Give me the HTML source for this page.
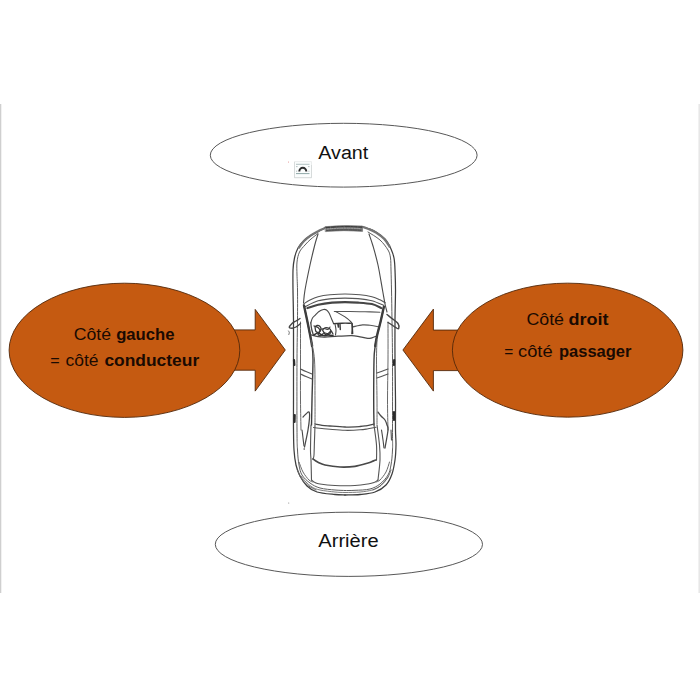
<!DOCTYPE html>
<html lang="fr">
<head>
<meta charset="utf-8">
<title>Côté gauche / côté droit</title>
<style>
html,body{margin:0;padding:0;background:#fff;}
body{width:700px;height:700px;overflow:hidden;position:relative;font-family:"Liberation Sans",sans-serif;}
svg{position:absolute;left:0;top:0;display:block;}
text{font-family:"Liberation Sans",sans-serif;}
.b{font-weight:bold;}
</style>
</head>
<body>
<svg width="700" height="700" viewBox="0 0 700 700">
  <defs>
    <linearGradient id="rg" x1="0" x2="1" y1="0" y2="0">
      <stop offset="0" stop-color="#f6f6f6"/><stop offset="1" stop-color="#e2e2e2"/>
    </linearGradient>
    <filter id="soft" x="-5%" y="-5%" width="110%" height="110%"><feGaussianBlur stdDeviation="0.35"/></filter>
  </defs>
  <rect x="0" y="0" width="700" height="700" fill="#ffffff"/>
  <!-- page edges -->
  <rect x="0" y="104" width="1" height="489" fill="#cfcfcf"/>
  <rect x="1" y="104" width="1" height="489" fill="#f1f1f1"/>
  <rect x="698" y="104" width="2" height="489" fill="url(#rg)"/>

  <!-- top ellipse -->
  <ellipse cx="343.7" cy="155.2" rx="133.4" ry="31.9" fill="#fff" stroke="#585858" stroke-width="1"/>
  <text x="318.3" y="158.6" font-size="18" fill="#111" textLength="50" lengthAdjust="spacingAndGlyphs">Avant</text>

  <!-- bottom ellipse -->
  <ellipse cx="348.9" cy="544.3" rx="133.6" ry="32.1" fill="#fff" stroke="#585858" stroke-width="1"/>
  <text x="318.3" y="547.1" font-size="18" fill="#111" textLength="60.3" lengthAdjust="spacingAndGlyphs">Arrière</text>

  <!-- small icon -->
  <g id="icon">
    <rect x="294.5" y="161.7" width="17" height="16" fill="#fbfdfd" stroke="#e6e9e9" stroke-width="0.8"/>
    <path d="M294.5 162 V177.7 H311.5 V165" fill="none" stroke="#d2d5d5" stroke-width="0.8"/>
    <line x1="296" y1="164.3" x2="309.5" y2="164.3" stroke="#a9baba" stroke-width="0.9"/>
    <line x1="296" y1="173.6" x2="309.5" y2="173.6" stroke="#8fa8a8" stroke-width="1"/>
    <path d="M296 166.6h1.6M296 171.2h1.2M308 166.6h1.6M308.3 171.2h1.2" stroke="#9aa8a8" stroke-width="0.7"/>
    <path d="M299.3 171.4 A3.5 3.6 0 0 1 306.3 171.4" fill="none" stroke="#2e2e2e" stroke-width="2"/>
    <circle cx="288.5" cy="162" r="0.5" fill="#e08080"/>
  </g>

  <!-- left arrow + ellipse -->
  <g fill="#c55a11" stroke="#52280a" stroke-width="0.9" stroke-linejoin="miter">
    <path d="M225 329.9 L255.2 329.9 L255.2 309.4 L285.3 350 L255.2 391.1 L255.2 370.2 L225 370.2 Z"/>
    <ellipse cx="124.45" cy="350.3" rx="115.35" ry="67.1"/>
    <path d="M465 330.1 L433.4 330.1 L433.4 309.1 L402.9 350 L433.4 391.1 L433.4 370.6 L465 370.6 Z"/>
    <ellipse cx="567.65" cy="350.15" rx="115.25" ry="67"/>
  </g>

  <!-- left text -->
  <g font-size="16" fill="#1a0a02">
    <text x="73.7" y="340.1" textLength="37.3" lengthAdjust="spacingAndGlyphs">Côté</text>
    <text class="b" x="116.2" y="340.1" textLength="58.3" lengthAdjust="spacingAndGlyphs">gauche</text>
    <text x="50.2" y="365.7" textLength="9.4" lengthAdjust="spacingAndGlyphs">=</text>
    <text x="65.5" y="365.7" textLength="33" lengthAdjust="spacingAndGlyphs">côté</text>
    <text class="b" x="104.4" y="365.7" textLength="94.8" lengthAdjust="spacingAndGlyphs">conducteur</text>
  </g>
  <!-- right text -->
  <g font-size="16" fill="#1a0a02">
    <text x="526.4" y="324.6" textLength="37.6" lengthAdjust="spacingAndGlyphs">Côté</text>
    <text class="b" x="568.6" y="324.6" textLength="40" lengthAdjust="spacingAndGlyphs">droit</text>
    <text x="504.2" y="357.2" textLength="9" lengthAdjust="spacingAndGlyphs">=</text>
    <text x="518" y="357.2" textLength="34.6" lengthAdjust="spacingAndGlyphs">côté</text>
    <text class="b" x="559" y="357.2" textLength="72.4" lengthAdjust="spacingAndGlyphs">passager</text>
  </g>

  <!-- CAR -->
  <g id="car" filter="url(#soft)" fill="none" stroke="#555" stroke-width="0.8" stroke-linecap="round" stroke-linejoin="round">
    <path d="M325.5 227.5C324.6 228.0 322.6 229.1 320.0 230.5C317.4 231.9 312.7 234.3 310.0 236.0C307.3 237.7 306.0 238.5 304.0 240.5C302.0 242.5 299.6 245.1 298.0 248.0C296.4 250.9 295.3 254.3 294.5 258.0C293.7 261.7 293.2 264.7 293.0 270.0C292.8 275.3 292.9 281.7 293.0 290.0C293.1 298.3 293.4 308.3 293.5 320.0C293.6 331.7 293.5 346.7 293.5 360.0C293.5 373.3 293.5 388.3 293.5 400.0C293.5 411.7 293.4 421.7 293.5 430.0C293.6 438.3 293.6 444.2 294.0 450.0C294.4 455.8 295.0 460.7 296.0 465.0C297.0 469.3 298.2 472.5 300.0 476.0C301.8 479.5 304.2 483.3 307.0 486.0C309.8 488.7 312.3 490.6 317.0 492.0C321.7 493.4 330.3 494.0 335.0 494.5C339.7 495.0 343.3 494.9 345.0 495.0" stroke="#3e3e3e" stroke-width="1.26"/>
    <path d="M362.0 226.5C363.0 226.8 365.8 227.7 368.0 228.5C370.2 229.3 372.2 229.8 375.0 231.5C377.8 233.2 382.3 236.1 385.0 239.0C387.7 241.9 389.5 245.8 391.0 249.0C392.5 252.2 393.3 254.5 394.0 258.0C394.7 261.5 394.8 264.7 395.0 270.0C395.2 275.3 395.5 281.7 395.5 290.0C395.5 298.3 395.1 308.3 395.0 320.0C394.9 331.7 394.9 346.7 395.0 360.0C395.1 373.3 395.4 388.3 395.5 400.0C395.6 411.7 395.4 422.5 395.5 430.0C395.6 437.5 396.1 440.0 396.0 445.0C395.9 450.0 395.7 455.2 395.0 460.0C394.3 464.8 393.5 469.8 392.0 474.0C390.5 478.2 388.8 482.0 386.0 485.0C383.2 488.0 379.3 490.4 375.0 492.0C370.7 493.6 365.0 494.0 360.0 494.5C355.0 495.0 347.5 494.9 345.0 495.0" stroke="#3e3e3e" stroke-width="1.26"/>
    <path d="M324.0 228.5C323.0 228.9 320.3 229.9 318.0 231.2C315.7 232.4 312.3 234.4 310.0 236.0C307.7 237.6 305.8 239.1 304.0 241.0C302.2 242.9 299.8 246.4 299.0 247.5" stroke="#757575" stroke-width="2.24"/>
    <path d="M363.0 227.0C364.0 227.4 366.8 228.3 369.0 229.2C371.2 230.1 373.5 230.9 376.0 232.5C378.5 234.1 381.8 236.5 384.0 238.8C386.2 241.1 388.6 245.2 389.5 246.5" stroke="#757575" stroke-width="2.24"/>
    <path d="M318.0 233.5C316.8 234.4 313.2 237.1 311.0 239.0C308.8 240.9 306.9 242.8 305.0 245.0C303.1 247.2 300.8 249.2 299.5 252.0C298.2 254.8 297.4 258.2 297.0 262.0C296.6 265.8 296.9 270.3 297.0 275.0C297.1 279.7 297.4 282.5 297.5 290.0C297.6 297.5 297.6 308.3 297.5 320.0C297.4 331.7 297.1 341.7 297.0 360.0C296.9 378.3 296.9 415.0 297.0 430.0C297.1 445.0 297.2 444.2 297.5 450.0C297.8 455.8 298.2 460.8 299.0 465.0C299.8 469.2 300.2 472.0 302.0 475.0C303.8 478.0 307.0 480.8 310.0 483.0C313.0 485.2 315.8 486.8 320.0 488.0C324.2 489.2 330.8 489.6 335.0 490.0C339.2 490.4 343.3 490.4 345.0 490.5" stroke="#5a5a5a" stroke-width="0.98"/>
    <path d="M368.0 232.0C370.0 233.3 376.7 237.0 380.0 240.0C383.3 243.0 386.2 247.0 388.0 250.0C389.8 253.0 390.0 254.7 390.5 258.0C391.0 261.3 390.8 264.7 391.0 270.0C391.2 275.3 391.3 281.7 391.5 290.0C391.7 298.3 391.8 308.3 392.0 320.0C392.2 331.7 392.4 341.7 392.5 360.0C392.6 378.3 392.5 415.0 392.5 430.0C392.5 445.0 392.8 444.2 392.5 450.0C392.2 455.8 391.8 460.8 391.0 465.0C390.2 469.2 389.8 471.8 388.0 475.0C386.2 478.2 383.0 481.7 380.0 484.0C377.0 486.3 374.2 487.9 370.0 489.0C365.8 490.1 359.2 490.1 355.0 490.3C350.8 490.6 346.7 490.5 345.0 490.5" stroke="#5a5a5a" stroke-width="0.98"/>
    <path d="M300.5 322.0C300.5 328.3 300.5 347.0 300.5 360.0C300.5 373.0 300.4 388.3 300.5 400.0C300.6 411.7 300.9 425.0 301.0 430.0" stroke="#656565" stroke-width="0.98"/>
    <path d="M388.0 322.0C388.0 328.3 388.1 347.0 388.0 360.0C387.9 373.0 387.5 388.3 387.5 400.0C387.5 411.7 387.9 425.0 388.0 430.0" stroke="#656565" stroke-width="0.98"/>
    <path d="M301.0 476.0C301.8 477.0 304.2 480.2 306.0 482.0C307.8 483.8 309.7 485.7 312.0 487.0C314.3 488.3 316.2 489.2 320.0 490.0C323.8 490.8 330.8 491.6 335.0 492.0C339.2 492.4 340.8 492.5 345.0 492.5C349.2 492.5 355.5 492.4 360.0 492.0C364.5 491.6 368.7 491.0 372.0 490.0C375.3 489.0 377.3 488.2 380.0 486.0C382.7 483.8 386.7 478.5 388.0 477.0" stroke="#656565" stroke-width="0.84"/>
    <path d="M318.0 234.0C317.4 236.0 315.8 240.8 314.5 246.0C313.2 251.2 311.6 257.7 310.0 265.0C308.4 272.3 306.1 283.7 305.0 290.0C303.9 296.3 303.8 300.8 303.5 303.0" stroke="#4c4c4c" stroke-width="1.12"/>
    <path d="M369.0 234.0C369.7 236.0 371.5 240.8 373.0 246.0C374.5 251.2 376.4 257.7 378.0 265.0C379.6 272.3 381.3 283.5 382.5 290.0C383.7 296.5 384.2 300.3 385.0 304.0C385.8 307.7 386.7 310.7 387.0 312.0" stroke="#4c4c4c" stroke-width="1.12"/>
    <path d="M303.4 304.1C304.5 303.4 307.6 301.2 310.0 300.0C312.4 298.8 314.8 297.6 318.1 296.7C321.4 295.8 325.5 295.2 330.0 294.8C334.5 294.4 340.0 294.0 345.0 294.0C350.0 294.0 355.5 294.4 360.0 294.8C364.5 295.2 368.6 295.9 371.9 296.7C375.2 297.5 377.8 298.8 380.0 299.8C382.2 300.8 384.4 302.3 385.3 302.8" stroke="#565656" stroke-width="1.12"/>
    <path d="M304.7 306.8C306.9 305.8 313.6 302.2 318.1 300.8C322.7 299.4 327.5 299.1 332.0 298.6C336.5 298.2 340.7 298.1 345.0 298.1C349.3 298.1 353.5 298.2 358.0 298.6C362.5 299.1 367.6 299.7 371.9 300.8C376.2 301.9 381.9 304.7 383.9 305.5" stroke="#565656" stroke-width="1.12"/>
    <path d="M307.4 308.1C309.2 307.6 314.0 305.7 318.1 304.8C322.2 303.9 327.5 303.1 332.0 302.6C336.5 302.2 340.7 302.1 345.0 302.1C349.3 302.1 353.5 302.3 358.0 302.6C362.5 302.9 368.0 303.2 371.9 304.1C375.8 305.0 379.7 307.4 381.3 308.1" stroke="#444444" stroke-width="2.10"/>
    <path d="M334.3 311.5C336.9 311.5 344.9 311.4 350.0 311.5C355.1 311.6 360.0 311.7 365.0 311.8C370.0 311.9 377.4 312.1 379.9 312.2" stroke="#565656" stroke-width="1.12"/>
    <path d="M310.8 322.9C311.1 322.1 311.7 319.3 312.5 318.0C313.3 316.7 314.4 316.0 315.5 314.9C316.6 313.8 317.7 312.4 319.0 311.5C320.3 310.6 322.2 309.8 323.5 309.5C324.8 309.2 325.6 309.4 326.5 310.0C327.4 310.6 328.0 311.3 328.9 312.8C329.8 314.3 330.8 317.1 331.6 318.9C332.4 320.7 333.3 322.8 333.6 323.6" stroke="#484848" stroke-width="1.12"/>
    <path d="M335.6 311.5C337.2 312.4 342.3 315.0 345.0 316.9C347.7 318.8 350.5 321.0 351.7 322.9C352.9 324.8 352.4 326.5 352.4 328.3C352.4 330.1 351.8 332.8 351.7 333.7" stroke="#484848" stroke-width="1.12"/>
    <path d="M333.6 323.6C335.0 323.5 339.2 323.3 342.0 323.2C344.8 323.1 349.0 323.2 350.4 323.2" stroke="#393939" stroke-width="1.40"/>
    <path d="M352.4 326.9C354.1 326.6 359.6 325.2 362.5 324.9C365.4 324.6 367.3 325.0 370.0 325.3C372.7 325.6 377.2 326.6 378.6 326.9" stroke="#565656" stroke-width="1.12"/>
    <path d="M311.4 335.0C312.5 335.3 315.8 336.3 318.0 336.6C320.2 336.9 321.6 337.1 324.9 337.0C328.2 336.9 333.5 336.4 338.0 336.2C342.5 336.0 348.0 335.6 351.7 335.7C355.4 335.8 357.3 336.4 360.0 336.8C362.7 337.2 365.8 338.2 367.8 338.4C369.8 338.6 370.6 338.1 372.0 337.8C373.4 337.5 375.2 336.6 375.9 336.3" stroke="#484848" stroke-width="1.26"/>
    <path d="M304.0 305.5C304.6 308.2 306.4 316.7 307.4 321.6C308.4 326.5 309.3 330.9 310.1 335.0C310.9 339.1 311.6 341.8 312.1 346.0C312.6 350.2 313.0 351.0 313.0 360.0C313.0 369.0 312.2 389.2 312.0 400.0C311.8 410.8 311.6 420.8 311.5 425.0" stroke="#3e3e3e" stroke-width="1.40"/>
    <path d="M383.9 306.8C383.3 309.3 381.7 316.9 380.6 321.6C379.5 326.3 378.1 330.9 377.2 335.0C376.3 339.1 375.7 341.8 375.2 346.0C374.7 350.2 374.2 351.0 374.0 360.0C373.8 369.0 373.7 389.2 373.7 400.0C373.7 410.8 373.9 420.8 374.0 425.0" stroke="#3e3e3e" stroke-width="1.40"/>
    <path d="M304.0 305.5C304.6 308.2 306.4 316.7 307.4 321.6C308.4 326.5 309.3 330.9 310.1 335.0C310.9 339.1 311.8 344.2 312.1 346.0" stroke="#3e3e3e" stroke-width="2.38"/>
    <path d="M383.9 306.8C383.3 309.3 381.7 316.9 380.6 321.6C379.5 326.3 378.1 330.9 377.2 335.0C376.3 339.1 375.5 344.2 375.2 346.0" stroke="#3e3e3e" stroke-width="2.38"/>
    <path d="M310.8 322.9C310.9 323.9 311.2 326.9 311.6 329.0C312.1 331.1 313.2 334.4 313.5 335.5" stroke="#484848" stroke-width="1.26"/>
    <path d="M311.0 340.0C311.6 343.3 313.8 350.0 314.5 360.0C315.2 370.0 314.9 389.3 315.0 400.0C315.1 410.7 315.0 420.0 315.0 424.0" stroke="#656565" stroke-width="0.98"/>
    <path d="M377.0 340.0C376.9 343.3 376.5 350.0 376.5 360.0C376.5 370.0 376.9 389.3 377.0 400.0C377.1 410.7 377.0 420.0 377.0 424.0" stroke="#656565" stroke-width="0.98"/>
    <path d="M314.0 326.0C314.7 326.2 317.0 326.7 318.0 327.5C319.0 328.3 320.0 329.8 320.0 331.0C320.0 332.2 317.8 333.8 318.0 334.5C318.2 335.2 320.0 335.8 321.0 335.5C322.0 335.2 322.8 333.3 324.0 333.0C325.2 332.7 326.8 333.8 328.0 333.5C329.2 333.2 330.2 330.9 331.0 331.0C331.8 331.1 332.7 333.5 333.0 334.0" stroke="#393939" stroke-width="1.26"/>
    <path d="M320.0 329.5C320.7 329.3 322.7 328.5 324.0 328.5C325.3 328.5 327.0 329.8 328.0 329.5C329.0 329.2 329.7 327.4 330.0 327.0" stroke="#484848" stroke-width="1.12"/>
    <path d="M335.0 324.0C335.2 325.0 335.9 328.2 336.0 330.0C336.1 331.8 335.6 334.2 335.5 335.0" stroke="#484848" stroke-width="1.12"/>
    <path d="M338.0 324.0L338.5 327.0" stroke="#393939" stroke-width="1.68"/>
    <path d="M315.0 327.0C315.3 326.8 316.2 325.6 317.0 325.5C317.8 325.4 319.3 325.8 320.0 326.5C320.7 327.2 321.2 328.6 321.0 329.5C320.8 330.4 319.8 331.7 319.0 332.0C318.2 332.3 316.7 332.3 316.0 331.5C315.3 330.7 315.2 327.8 315.0 327.0" stroke="#393939" stroke-width="1.26"/>
    <path d="M322.5 330.0C322.9 329.6 323.9 328.1 325.0 327.8C326.1 327.5 328.0 327.8 329.0 328.3C330.0 328.8 330.9 330.1 331.0 331.0C331.1 331.9 330.4 333.4 329.5 334.0C328.6 334.6 326.7 335.2 325.5 334.5C324.3 333.8 323.0 330.8 322.5 330.0" stroke="#393939" stroke-width="1.26"/>
    <path d="M314.0 335.0C314.7 334.7 316.5 332.9 318.0 333.0C319.5 333.1 321.3 335.2 323.0 335.5C324.7 335.8 326.3 335.0 328.0 335.0C329.7 335.0 332.2 335.4 333.0 335.5" stroke="#313131" stroke-width="1.54"/>
    <path d="M340.0 324.0L340.3 329.5" stroke="#393939" stroke-width="1.40"/>
    <path d="M352.0 323.5L352.6 333.5" stroke="#393939" stroke-width="1.54"/>
    <path d="M300.0 318.5C299.3 318.9 297.3 320.2 296.0 321.0C294.7 321.8 293.1 322.4 292.0 323.5C290.9 324.6 289.3 326.5 289.3 327.3C289.3 328.1 290.9 328.2 292.0 328.2C293.1 328.1 294.6 327.8 296.0 327.0C297.4 326.2 299.8 324.1 300.5 323.5" stroke="#444444" stroke-width="1.40"/>
    <path d="M288.5 331.0C288.6 331.2 289.2 331.9 289.3 332.5C289.4 333.1 288.9 334.2 288.8 334.5" stroke="#656565" stroke-width="0.98"/>
    <path d="M387.0 314.5C387.8 315.2 390.2 317.0 392.0 318.5C393.8 320.0 396.9 321.8 398.0 323.5C399.1 325.2 399.0 327.8 398.7 328.5C398.4 329.2 397.1 328.3 396.0 327.7C394.9 327.1 393.3 325.9 392.0 325.0C390.7 324.1 388.7 322.9 388.0 322.5" stroke="#444444" stroke-width="1.40"/>
    <path d="M300.5 369.0C301.4 369.4 304.1 370.7 306.0 371.5C307.9 372.3 311.0 373.6 312.0 374.0" stroke="#565656" stroke-width="1.12"/>
    <path d="M300.5 374.0C301.4 374.4 304.1 375.7 306.0 376.5C307.9 377.3 311.0 378.6 312.0 379.0" stroke="#565656" stroke-width="1.12"/>
    <path d="M377.0 373.0C377.8 372.7 380.2 372.0 382.0 371.3C383.8 370.6 387.0 369.4 388.0 369.0" stroke="#565656" stroke-width="1.12"/>
    <path d="M377.0 378.0C377.8 377.7 380.2 377.0 382.0 376.3C383.8 375.6 387.0 374.4 388.0 374.0" stroke="#565656" stroke-width="1.12"/>
    <path d="M294.0 360.0L294.3 365.0" stroke="#2b2b2b" stroke-width="2.24"/>
    <path d="M394.2 360.0L394.0 365.0" stroke="#2b2b2b" stroke-width="2.24"/>
    <path d="M294.7 415.0L294.5 422.0" stroke="#2b2b2b" stroke-width="2.24"/>
    <path d="M394.0 412.0L394.0 420.0" stroke="#2b2b2b" stroke-width="2.24"/>
    <path d="M303.0 417.0C303.5 416.5 305.0 414.8 306.0 414.0C307.0 413.2 308.4 411.3 309.0 412.0C309.6 412.7 309.7 415.0 309.5 418.0C309.3 421.0 308.8 425.2 308.0 430.0C307.2 434.8 305.1 444.2 304.5 447.0" stroke="#484848" stroke-width="1.26"/>
    <path d="M302.0 430.0C302.2 431.3 302.7 435.3 303.0 438.0C303.3 440.7 303.8 444.7 304.0 446.0" stroke="#484848" stroke-width="1.12"/>
    <path d="M378.0 412.0C378.5 412.7 379.8 414.7 381.0 416.0C382.2 417.3 384.0 418.5 385.0 420.0C386.0 421.5 386.5 423.3 387.0 425.0C387.5 426.7 388.3 426.2 388.0 430.0C387.7 433.8 385.5 445.0 385.0 448.0" stroke="#484848" stroke-width="1.26"/>
    <path d="M381.5 430.0C381.8 431.7 382.6 437.0 383.0 440.0C383.4 443.0 383.8 446.7 384.0 448.0" stroke="#484848" stroke-width="1.12"/>
    <path d="M391.0 430.0L391.5 440.0" stroke="#565656" stroke-width="1.12"/>
    <path d="M315.0 424.0C316.2 424.2 319.5 425.0 322.0 425.3C324.5 425.6 326.2 425.7 330.0 426.0C333.8 426.3 340.0 426.9 345.0 427.0C350.0 427.1 356.5 426.7 360.0 426.5C363.5 426.3 363.7 426.2 366.0 425.8C368.3 425.4 372.7 424.3 374.0 424.0" stroke="#484848" stroke-width="1.26"/>
    <path d="M313.5 427.5C314.9 427.7 319.2 428.2 322.0 428.5C324.8 428.8 326.2 429.0 330.0 429.3C333.8 429.6 340.0 430.2 345.0 430.3C350.0 430.4 356.2 430.1 360.0 429.8C363.8 429.6 365.3 429.2 368.0 428.8C370.7 428.4 374.7 427.6 376.0 427.3" stroke="#565656" stroke-width="1.12"/>
    <path d="M297.5 470.0C298.1 471.3 299.2 475.4 301.0 478.0C302.8 480.6 305.5 483.5 308.0 485.5C310.5 487.5 314.7 489.2 316.0 490.0" stroke="#656565" stroke-width="0.98"/>
    <path d="M391.0 470.0C390.4 471.3 389.2 475.4 387.5 478.0C385.8 480.6 383.4 483.5 381.0 485.5C378.6 487.5 374.3 489.2 373.0 490.0" stroke="#656565" stroke-width="0.98"/>
    <path d="M299.0 462.0C299.7 463.7 301.3 469.0 303.0 472.0C304.7 475.0 307.3 478.3 309.0 480.0C310.7 481.7 312.3 481.7 313.0 482.0" stroke="#656565" stroke-width="0.98"/>
    <path d="M389.5 462.0C388.9 463.7 387.6 469.0 386.0 472.0C384.4 475.0 381.7 478.3 380.0 480.0C378.3 481.7 376.7 481.7 376.0 482.0" stroke="#656565" stroke-width="0.98"/>
    <path d="M311.0 425.0C310.9 429.2 310.5 444.2 310.5 450.0C310.5 455.8 310.8 455.0 311.0 460.0C311.2 465.0 311.4 476.7 311.5 480.0" stroke="#565656" stroke-width="1.12"/>
    <path d="M315.0 425.0C314.9 427.5 314.7 435.0 314.5 440.0C314.3 445.0 314.2 451.8 314.0 455.0C313.8 458.2 313.2 458.3 313.0 459.0" stroke="#565656" stroke-width="1.12"/>
    <path d="M374.0 425.0C374.4 428.3 376.1 439.2 376.5 445.0C376.9 450.8 376.5 457.5 376.5 460.0" stroke="#565656" stroke-width="1.12"/>
    <path d="M377.0 425.0C377.4 428.3 379.0 439.2 379.5 445.0C380.0 450.8 380.2 454.2 380.0 460.0C379.8 465.8 378.3 476.7 378.0 480.0" stroke="#565656" stroke-width="1.12"/>
    <path d="M313.0 459.0C313.8 459.6 316.0 461.3 318.0 462.3C320.0 463.3 321.3 464.2 325.0 465.0C328.7 465.8 335.0 466.8 340.0 467.0C345.0 467.2 350.3 467.0 355.0 466.3C359.7 465.6 365.2 463.8 368.0 463.0C370.8 462.2 370.7 462.0 372.0 461.5C373.3 461.0 375.3 460.2 376.0 460.0" stroke="#484848" stroke-width="1.68"/>
    <path d="M311.5 480.0C312.1 480.4 313.6 481.8 315.0 482.5C316.4 483.2 316.7 483.5 320.0 484.0C323.3 484.5 329.2 485.2 335.0 485.5C340.8 485.8 349.5 485.8 355.0 485.5C360.5 485.2 364.8 484.5 368.0 484.0C371.2 483.5 372.3 483.2 374.0 482.5C375.7 481.8 377.3 480.4 378.0 480.0" stroke="#565656" stroke-width="1.12"/>
    <path d="M325.3 226.6 Q344 224.8 362.4 226 L362.6 231.4 Q344 229.8 325.6 231.6 Z" fill="#6a6a6a" stroke="#5a5a5a" stroke-width="0.5"/>
<path d="M326.5 227.6 Q344 225.9 361.5 227.1" stroke="#3c3c3c" stroke-width="1.1" stroke-dasharray="3 1.6 5 1.2 2 1"/>
<path d="M326.5 230.6 Q344 229 361.5 230.4" stroke="#4a4a4a" stroke-width="0.9" stroke-dasharray="4 1.3 2.5 1"/>
<path d="M327 229 Q344 227.4 361 228.7" stroke="#a8a8a8" stroke-width="0.9" stroke-dasharray="2.2 1.2"/>
<circle cx="304.2" cy="449" r="0.8" fill="#444" stroke="none"/>
<circle cx="288.7" cy="503" r="0.6" fill="#888" stroke="none"/>
  </g>
</svg>
</body>
</html>
